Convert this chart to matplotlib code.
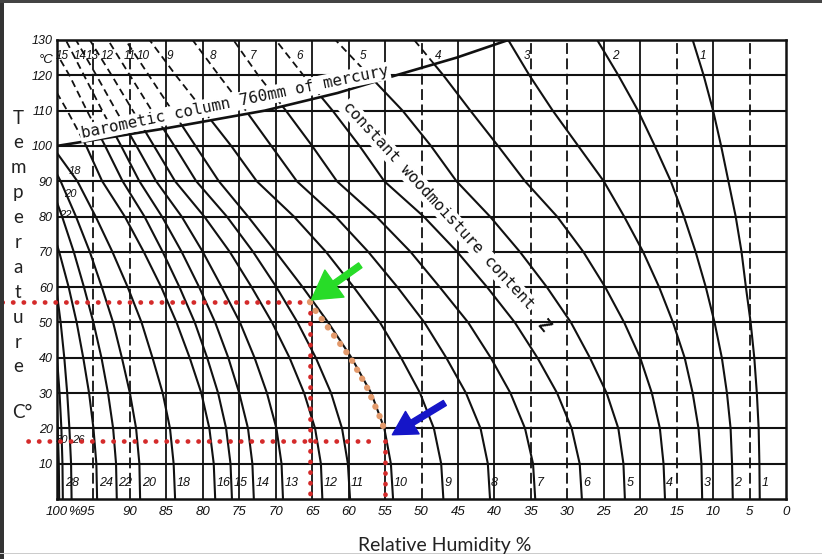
import numpy as np
import matplotlib
matplotlib.use("Agg")
import matplotlib.pyplot as plt
from matplotlib.patches import Polygon, Rectangle

# ---------------- data ----------------
temps = [0, 10, 20, 30, 40, 50, 60, 70, 80, 90, 100, 110, 120, 130]

rh_emc1 = [3.6, 3.65, 3.75, 4.0, 4.35, 4.85, 5.5, 6.1, 6.9, 7.9, 8.9, 10.0, 11.3, 12.8]
rh_emc2 = [7.3, 7.4, 7.6, 8.1, 8.8, 9.8, 11.0, 12.4, 14.0, 15.8, 18.0, 20.3, 23.0, 25.9]
rh_emc3 = [11.5, 11.6, 12.0, 12.8, 13.9, 15.5, 17.4, 19.6, 22.2, 25.0, 28.5, 32.0, 35.2, 38.1]
rh_emc4 = [16.6, 16.8, 17.3, 18.4, 20.0, 22.2, 24.8, 27.8, 31.4, 35.8, 39.5, 43.3, 47.0, 51.0]
rh_emc5 = [22.1, 22.3, 23.0, 24.6, 26.9, 29.5, 32.8, 36.5, 40.6, 45.2, 48.7, 52.6, 57.2, 61.8]
rh_emc6 = [28.0, 28.3, 29.4, 31.4, 34.1, 37.2, 41.0, 45.1, 49.7, 55.1, 58.5, 62.2, 66.2, 70.0]
rh_emc7 = [34.4, 34.7, 35.8, 37.8, 40.5, 43.6, 47.5, 51.5, 56.2, 61.6, 65.0, 68.6, 72.4, 75.8]
rh_emc8 = [40.6, 40.9, 41.9, 43.9, 46.6, 49.6, 53.3, 57.3, 61.8, 67.1, 70.6, 74.1, 77.8, 81.4]
rh_emc9 = [47.0, 47.3, 48.3, 50.2, 52.8, 55.7, 59.3, 63.1, 67.5, 72.6, 76.1, 79.9, 83.7, 87.3]
rh_emc10 = [53.9, 54.2, 55.1, 56.9, 59.6, 62.8, 66.3, 70.0, 73.8, 77.8, 81.0, 84.2, 87.4, 90.6]
rh_emc11 = [59.8, 60.1, 60.9, 62.4, 64.5, 67.0, 69.9, 73.1, 76.7, 80.9, 83.9, 87.0, 90.0, 93.0]
rh_emc12 = [63.6, 63.8, 64.6, 66.1, 68.1, 70.5, 73.3, 76.3, 79.8, 83.8, 86.7, 89.6, 92.5, 95.5]
rh_emc13 = [69.0, 69.2, 69.9, 71.2, 72.9, 74.9, 77.4, 80.0, 82.9, 86.4, 89.1, 91.9, 94.6, 97.4]
rh_emc14 = [73.0, 73.2, 73.8, 75.0, 76.5, 78.3, 80.5, 82.9, 85.6, 88.7, 91.2, 93.8, 96.3, 98.8]

t_emc15 = [0, 10, 20, 30, 40, 50, 60, 70, 80, 90, 100, 110, 120, 126]
rh_emc15 = [76.0, 76.2, 76.8, 77.9, 79.4, 81.1, 83.2, 85.5, 88.0, 91.0, 93.4, 95.9, 98.3, 100.0]
t_emc16 = [0, 10, 20, 30, 40, 50, 60, 70, 80, 90, 100, 110, 115]
rh_emc16 = [78.3, 78.5, 79.1, 80.2, 81.8, 83.6, 85.7, 88.1, 90.7, 93.8, 96.0, 98.6, 100.0]
t_emc18 = [0, 10, 20, 30, 40, 50, 60, 70, 80, 90, 98]
rh_emc18 = [83.8, 84.0, 84.5, 85.5, 86.9, 88.4, 90.3, 92.4, 94.7, 97.2, 100.0]
t_emc20 = [0, 10, 20, 30, 40, 50, 60, 70, 80, 90, 92]
rh_emc20 = [88.6, 88.7, 89.15, 90.0, 91.1, 92.3, 93.85, 95.5, 97.4, 99.5, 100.0]
t_emc22 = [0, 10, 20, 30, 40, 50, 60, 70, 80, 84]
rh_emc22 = [91.8, 91.9, 92.3, 93.0, 93.9, 95.0, 96.3, 97.7, 99.3, 100.0]
t_emc24 = [0, 10, 20, 30, 40, 50, 60, 70, 72]
rh_emc24 = [94.5, 94.6, 95.0, 95.6, 96.4, 97.3, 98.4, 99.7, 100.0]
t_emc26 = [0, 10, 20, 30, 40, 50, 58]
rh_emc26 = [98.0, 98.07, 98.3, 98.6, 99.0, 99.5, 100.0]
t_emc28 = [0, 10, 20, 30, 40]
rh_emc28 = [99.2, 99.25, 99.4, 99.65, 100.0]
t_emc30 = [0, 10, 20, 25]
rh_emc30 = [99.7, 99.75, 99.9, 100.0]

# barometric column 760 mm line (boiling limit)
baro_t = [100, 105, 110, 115, 120, 125, 130]
baro_rh = [100.0, 85.0, 71.5, 61.5, 53.5, 45.2, 38.1]

# worked example (red / orange markings)
mark_rh_hi, mark_t_hi = 65.3, 55.8
mark_rh_lo, mark_t_lo = 55.0, 16.4
path_rh = [65.3, 64.6, 59.8, 57.5, 55.4, 55.0]
path_t = [55.8, 53.5, 40.2, 31.7, 21.8, 18.5]

x_ticks = list(range(100, -1, -5))
y_ticks = list(range(10, 131, 10))
bottom_labels = [28, 24, 22, 20, 18, 16, 15, 14, 13, 12, 11, 10, 9, 8, 7, 6, 5, 4, 3, 2, 1]
top_labels = [15, 14, 13, 12, 11, 10, 9, 8, 7, 6, 5, 4, 3, 2, 1]

curves = {
    1: (temps, rh_emc1), 2: (temps, rh_emc2), 3: (temps, rh_emc3), 4: (temps, rh_emc4),
    5: (temps, rh_emc5), 6: (temps, rh_emc6), 7: (temps, rh_emc7), 8: (temps, rh_emc8),
    9: (temps, rh_emc9), 10: (temps, rh_emc10), 11: (temps, rh_emc11), 12: (temps, rh_emc12),
    13: (temps, rh_emc13), 14: (temps, rh_emc14), 15: (t_emc15, rh_emc15),
    16: (t_emc16, rh_emc16), 18: (t_emc18, rh_emc18), 20: (t_emc20, rh_emc20),
    22: (t_emc22, rh_emc22), 24: (t_emc24, rh_emc24), 26: (t_emc26, rh_emc26),
    28: (t_emc28, rh_emc28), 30: (t_emc30, rh_emc30),
}

# ---------------- figure ----------------
W, H = 822, 559
fig = plt.figure(figsize=(W / 100, H / 100), dpi=100)
fig.patch.set_facecolor("white")
ax = fig.add_axes([57 / W, 1 - 499 / H, (786 - 57) / W, (499 - 40) / H])
ax.set_xlim(100, 0)
ax.set_ylim(0, 130)
ax.set_facecolor("white")


def px_to_rh(px):
    return 100 - (px - 57) / 7.29


ink = "#111111"
num_font = dict(family="Liberation Sans", style="italic", color=ink)

# clip regions: below / above the barometric line
below_pts = [(100, -10), (100, 100)] + list(zip(baro_rh, baro_t)) + [(baro_rh[-1], 140), (-10, 140), (-10, -10)]
above_pts = list(zip(baro_rh, baro_t)) + [(baro_rh[-1], 140), (110, 140), (110, 100)]
below = Polygon(below_pts, closed=True, transform=ax.transData)
above = Polygon(above_pts, closed=True, transform=ax.transData)

# grid: horizontal
for t in range(10, 130, 10):
    if t == 110:
        ln, = ax.plot([100, 0], [t, t], color=ink, lw=1.5, zorder=1)
        ln.set_clip_path(below)
        ax.plot([100, 94], [t, t], color=ink, lw=1.5, zorder=1)
    else:
        ax.plot([100, 0], [t, t], color=ink, lw=1.5, zorder=1)

# grid: vertical (some dashed, some solid)
dashed_v = {95, 90, 50, 35, 30, 15, 5}
for x in range(95, 0, -5):
    if x in dashed_v:
        ax.plot([x, x], [0, 130], color=ink, lw=1.3, ls=(0, (6, 2.5)), zorder=1)
    else:
        ax.plot([x, x], [0, 130], color=ink, lw=1.3, zorder=1)

# curves of constant wood moisture content
for key, (tt, rr) in curves.items():
    ln, = ax.plot(rr, tt, color=ink, lw=1.5, zorder=2, solid_capstyle="butt")
    ln.set_clip_path(below)
    ln2, = ax.plot(rr, tt, color=ink, lw=1.3, ls=(0, (4, 2.5)), zorder=2)
    ln2.set_clip_path(above)

# barometric line
ax.plot(baro_rh, baro_t, color=ink, lw=1.9, zorder=3)

for s in ax.spines.values():
    s.set_linewidth(1.8)
    s.set_color(ink)

# ticks
ax.set_xticks(x_ticks)
ax.set_xticklabels([("" if v == 95 else str(v)) for v in x_ticks], fontsize=9.5, **num_font)
ax.set_yticks(y_ticks)
ax.set_yticklabels([str(v) for v in y_ticks], fontsize=9, **num_font)
ax.tick_params(axis="both", length=0)
ax.tick_params(axis="x", pad=5)
ax.tick_params(axis="y", pad=3)
ax.text(96.6, -3.8, "%95", ha="center", va="center", fontsize=9.5, clip_on=False, **num_font)
fig.text(46 / W, 1 - 60 / H, "°C", ha="center", va="center", fontsize=9.5, **num_font)

# curve labels
for lab in bottom_labels:
    tt, rr = curves[lab]
    ax.annotate(str(lab), xy=(np.interp(4.5, tt, rr), 4.5), xytext=(1.5, 0), textcoords="offset points",
                ha="left", va="center", fontsize=9, zorder=4, **num_font)
top_px = [62, 80, 92, 107, 130, 143, 170, 213, 253, 300, 363, 438, 527, 615, 703]
for lab, px in zip(top_labels, top_px):
    ax.text(px_to_rh(px), 125.5, str(lab), ha="center", va="center", fontsize=8.5, zorder=4, **num_font)
for lab, (px, yt) in {18: (75, 93), 20: (70, 86.5), 22: (65, 80.5), 30: (62, 16.6), 26: (78, 16.6)}.items():
    ax.text(px_to_rh(px), yt, str(lab), ha="center", va="center", fontsize=8, zorder=4, **num_font)

# rotated texts
mono = dict(family="DejaVu Sans Mono", color=ink)
ax.text(75.6, 112.4, "barometic column 760mm of mercury", rotation=11.6, rotation_mode="anchor",
        ha="center", va="center", fontsize=11.3, zorder=4,
        bbox=dict(boxstyle="square,pad=0.1", fc="white", ec="none"), **mono)
ax.text(47.7, 83.0, "constant woodmoisture content", rotation=-47.5, rotation_mode="anchor",
        ha="center", va="center", fontsize=11.3, zorder=4,
        bbox=dict(boxstyle="square,pad=0.1", fc="white", ec="none"), **mono)
ax.text(33.3, 49.0, "Z", rotation=-50, ha="center", va="center", fontsize=12, fontweight="bold",
        zorder=4, **mono)

# worked example markings
red = "#d42a2a"
dot = dict(color=red, lw=3.4, ls=(0, (0.05, 2.2)), dash_capstyle="round", zorder=6, clip_on=False)
ax.plot([107.5, mark_rh_hi], [mark_t_hi, mark_t_hi], **dot)
ax.plot([mark_rh_hi, mark_rh_hi], [mark_t_hi, 0], **dot)
ax.plot([104.0, mark_rh_lo + 1.5], [mark_t_lo, mark_t_lo], **dot)
ax.plot([mark_rh_lo, mark_rh_lo], [mark_t_lo, 0], **dot)
ax.plot(path_rh, path_t, color="#e39a6c", lw=4.5, ls=(0, (0.05, 1.6)), dash_capstyle="round", zorder=7)

ax.annotate("", xy=(65.1, 56.4), xytext=(58.4, 66.2),
            arrowprops=dict(arrowstyle="simple,head_length=1.45,head_width=1.7,tail_width=0.3",
                            mutation_scale=14, color="#28dc28", shrinkA=0, shrinkB=0), zorder=8)
ax.annotate("", xy=(54.0, 18.2), xytext=(46.8, 27.2),
            arrowprops=dict(arrowstyle="simple,head_length=1.2,head_width=1.35,tail_width=0.3",
                            mutation_scale=14, color="#1515c8", shrinkA=0, shrinkB=0), zorder=8)

# axis titles
lab_font = dict(family="Lato", color="#222222")
for i, ch in enumerate("Temperature"):
    fig.text(18 / W, 1 - (118 + i * 24.9) / H, ch, ha="center", va="center", fontsize=13.5, **lab_font)
fig.text(22 / W, 1 - 412 / H, "C°", ha="center", va="center", fontsize=13.5, **lab_font)
fig.text(445 / W, 1 - 545 / H, "Relative Humidity %", ha="center", va="center", fontsize=14, **lab_font)

# screenshot frame
fig.patches.append(Rectangle((0, 0), 4 / W, 1, transform=fig.transFigure, fc="#333333", ec="none"))
fig.patches.append(Rectangle((0, 1 - 3 / H), 1, 3 / H, transform=fig.transFigure, fc="#444444", ec="none"))
fig.patches.append(Rectangle((0, 1 - 554 / H), 1, 1.5 / H, transform=fig.transFigure, fc="#cccccc", ec="none"))

fig.savefig("out.png", dpi=100)
